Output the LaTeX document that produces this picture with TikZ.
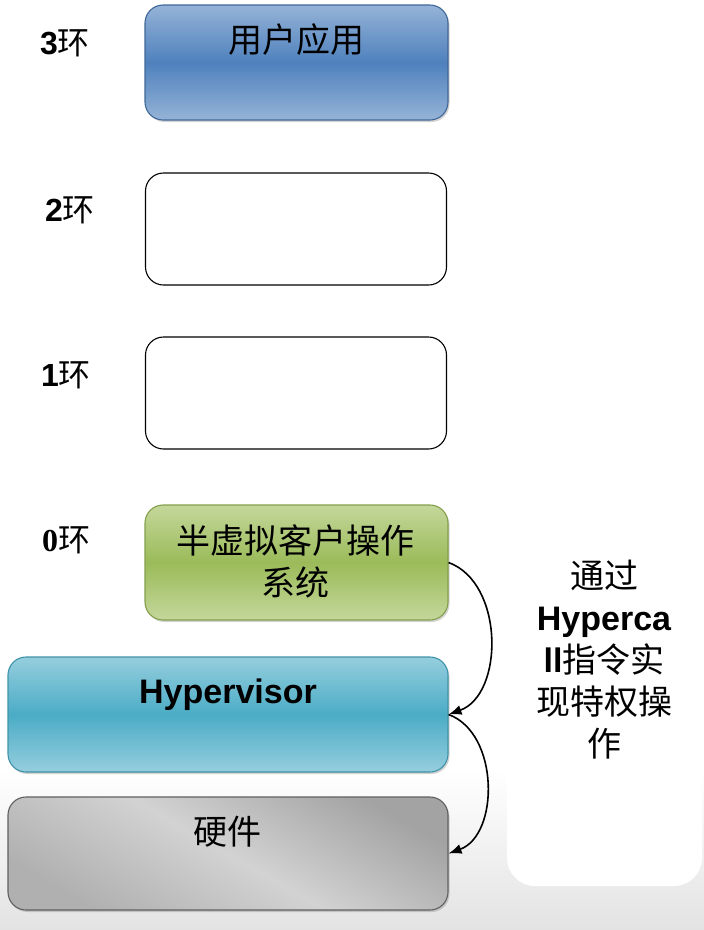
\documentclass[tikz,border=0pt]{standalone}
\usepackage{fontspec}
\setmainfont{Liberation Sans}
\newfontfamily\cjk{Noto Sans CJK SC}
\newfontfamily\numserif{Liberation Serif}
\usepackage{xcolor}
\usetikzlibrary{arrows.meta,shadows}

\definecolor{appblue}{HTML}{4F81BD}
\definecolor{appbluel}{HTML}{95B3D7}
\definecolor{guestgreen}{HTML}{9BBB59}
\definecolor{guestgreenl}{HTML}{C4D79B}
\definecolor{hypercyan}{HTML}{4BACC6}
\definecolor{hypercyanl}{HTML}{95CEDD}

\begin{document}
\begin{tikzpicture}[x=1pt, y=-1pt,
    ringbox/.style={draw, rounded corners=18pt, line width=1.1pt},
    shadowed/.style={drop shadow={opacity=0.35, shadow xshift=1.5pt, shadow yshift=-2pt}},
    ringlabel/.style={font=\fontsize{32}{38}\selectfont\bfseries},
    bigtext/.style={font=\fontsize{34}{42}\selectfont, align=center},
    callarrow/.style={-{Latex[length=13pt, width=10pt]}, line width=1.6pt, bend left=70}]
        \useasboundingbox (0, 0) rectangle (704, 930);
        \shade[top color=white, bottom color=gray!22] (0, 770) rectangle (704, 930);
        \fill[white, rounded corners=28pt] (507, 520) rectangle (702, 886);

        \node[ringbox, shadowed, draw=appblue!80!black, top color=appbluel, bottom color=appbluel, middle color=appblue,
            minimum width=303pt, minimum height=115pt] (app) at (296.5, 62.5) {};
        \node[ringbox, fill=white, minimum width=301pt, minimum height=112pt] (ring2) at (296, 229) {};
        \node[ringbox, fill=white, minimum width=301pt, minimum height=112pt] (ring1) at (296, 393) {};
        \node[ringbox, shadowed, draw=guestgreen!85!black, top color=guestgreenl, bottom color=guestgreenl, middle color=guestgreen,
            minimum width=303pt, minimum height=115pt] (guest) at (296.5, 562.5) {};
        \node[ringbox, shadowed, draw=hypercyan!85!black, top color=hypercyanl, bottom color=hypercyanl, middle color=hypercyan,
            minimum width=440pt, minimum height=115pt] (hyper) at (228, 714.5) {};
        \node[ringbox, shadowed, draw=gray!75!black, top color=gray!72, bottom color=gray!62, middle color=gray!35, shading angle=-30,
            minimum width=440pt, minimum height=113pt] (hw) at (228, 853.5) {};

        \node[bigtext] (apptext) at (296, 40) {\cjk 用户应用};
        \node[bigtext] (guesttext) at (295, 561) {\cjk 半虚拟客户操作\\\cjk 系统};
        \node[bigtext, font=\fontsize{34}{42}\selectfont\bfseries] (hypertext) at (228, 695) {Hypervisor};
        \node[bigtext] (hwtext) at (227, 832) {\cjk 硬件};

        \node[ringlabel] (lab3) at (65, 43) {3{\mdseries\cjk 环}};
        \node[ringlabel] (lab2) at (70, 210) {2{\mdseries\cjk 环}};
        \node[ringlabel] (lab1) at (66, 375) {1{\mdseries\cjk 环}};
        \node[ringlabel] (lab0) at (66, 540) {{\numserif 0}{\mdseries\cjk 环}};

        \node[bigtext] (note) at (604, 660) {{\cjk 通过}\\{\bfseries Hyperca}\\{\bfseries ll}{\cjk 指令实}\\{\cjk 现特权操}\\{\cjk 作}};

        \draw[callarrow] (guest.east) to (hyper.east);
        \draw[callarrow] (hyper.east) to (hw.east);
    \end{tikzpicture}
\end{document}
